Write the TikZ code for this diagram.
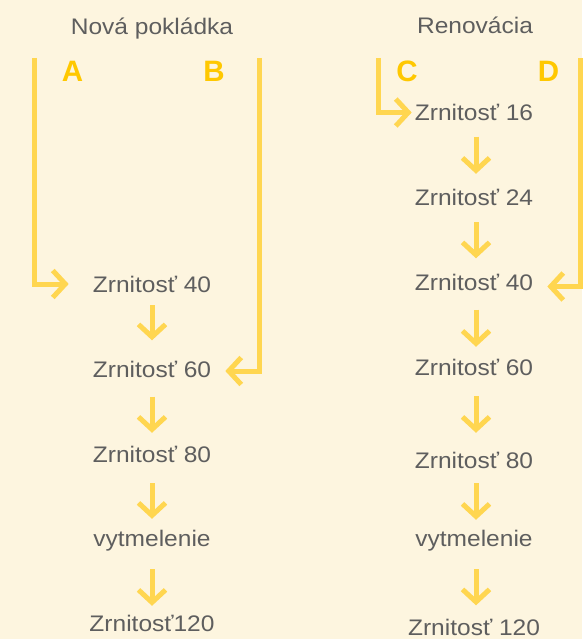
\documentclass[tikz,border=0pt]{standalone}
\usepackage{fontspec}
\setmainfont[FakeStretch=1.09]{Liberation Sans}
\newfontfamily\letterfont{Liberation Sans}
\usetikzlibrary{arrows.meta}
\definecolor{bgc}{HTML}{FDF5DF}
\definecolor{arrc}{HTML}{FFD650}
\definecolor{letc}{HTML}{FFC800}
\definecolor{txtc}{HTML}{5E5E5E}
\tikzset{
  lbl/.style={inner sep=0pt, text=txtc, font=\fontsize{22.5}{26}\selectfont, text height=16pt, text depth=0pt},
  ttl/.style={lbl},
  letter/.style={inner sep=0pt, text=letc, font=\letterfont\bfseries\fontsize{29.5}{32}\selectfont, text height=21pt, text depth=0pt},
  arr/.style={draw=arrc, line width=5pt, -{Straight Barb[length=12.5pt,width=27pt]}},
  brk/.style={draw=arrc, line width=5pt, line join=miter, -{Straight Barb[length=12.5pt,width=27pt]}}
}
\begin{document}
\begin{tikzpicture}[x=1pt,y=-1pt]
\fill[bgc] (0,0) rectangle (582,639);
\useasboundingbox (0,0) rectangle (582,639);
% titles
\node[ttl] (t1) at (152,27) {Nová pokládka};
\node[ttl] (t2) at (475,26) {Renovácia};
% letters
\node[letter] (A) at (72.5,71) {A};
\node[letter] (B) at (214,71) {B};
\node[letter] (C) at (407,71) {C};
\node[letter] (D) at (548.5,71) {D};
% left column
\node[lbl] (l40) at (152,284) {Zrnitosť 40};
\node[lbl] (l60) at (152,369.5) {Zrnitosť 60};
\node[lbl] (l80) at (152,454) {Zrnitosť 80};
\node[lbl] (lv) at (152,538) {vytmelenie};
\node[lbl] (l120) at (152,623) {Zrnitosť120};
% right column
\node[lbl] (r16) at (474,112.5) {Zrnitosť 16};
\node[lbl] (r24) at (474,197) {Zrnitosť 24};
\node[lbl] (r40) at (474,282.5) {Zrnitosť 40};
\node[lbl] (r60) at (474,367) {Zrnitosť 60};
\node[lbl] (r80) at (474,460) {Zrnitosť 80};
\node[lbl] (rv) at (474,538) {vytmelenie};
\node[lbl] (r120) at (474,627.5) {Zrnitosť 120};
% entry paths
\coordinate (As) at (34,58);
\coordinate (Bs) at (259,58);
\coordinate (Cs) at (378,58);
\coordinate (Ds) at (580,58);
\draw[brk] (As) |- ([xshift=-24pt]l40.west);
\draw[brk] (Bs) |- ([xshift=14pt,yshift=-1.5pt]l60.east);
\draw[brk] (Cs) |- ([xshift=-3pt]r16.west);
\draw[brk] (Ds) |- ([xshift=14pt,yshift=-4pt]r40.east);
% left arrows
\draw[arr] ([yshift=-13pt]l40.south -| l40) -- ([yshift=21pt]l60.north -| l60);
\draw[arr] ([yshift=-19pt]l60.south -| l60) -- ([yshift=13pt]l80.north -| l80);
\draw[arr] ([yshift=-21pt]l80.south -| l80) -- ([yshift=11pt]lv.north -| lv);
\draw[arr] ([yshift=-23pt]lv.south -| lv) -- ([yshift=9pt]l120.north -| l120);
% right arrows
\coordinate (rx) at (476,0);
\draw[arr] ([yshift=-16pt]r16.south -| rx) -- ([yshift=15pt]r24.north -| rx);
\draw[arr] ([yshift=-17pt]r24.south -| rx) -- ([yshift=16pt]r40.north -| rx);
\draw[arr] ([yshift=-19pt]r40.south -| rx) -- ([yshift=12pt]r60.north -| rx);
\draw[arr] ([yshift=-21pt]r60.south -| rx) -- ([yshift=19pt]r80.north -| rx);
\draw[arr] ([yshift=-15pt]r80.south -| rx) -- ([yshift=10pt]rv.north -| rx);
\draw[arr] ([yshift=-23pt]rv.south -| rx) -- ([yshift=14pt]r120.north -| rx);
\end{tikzpicture}
\end{document}
